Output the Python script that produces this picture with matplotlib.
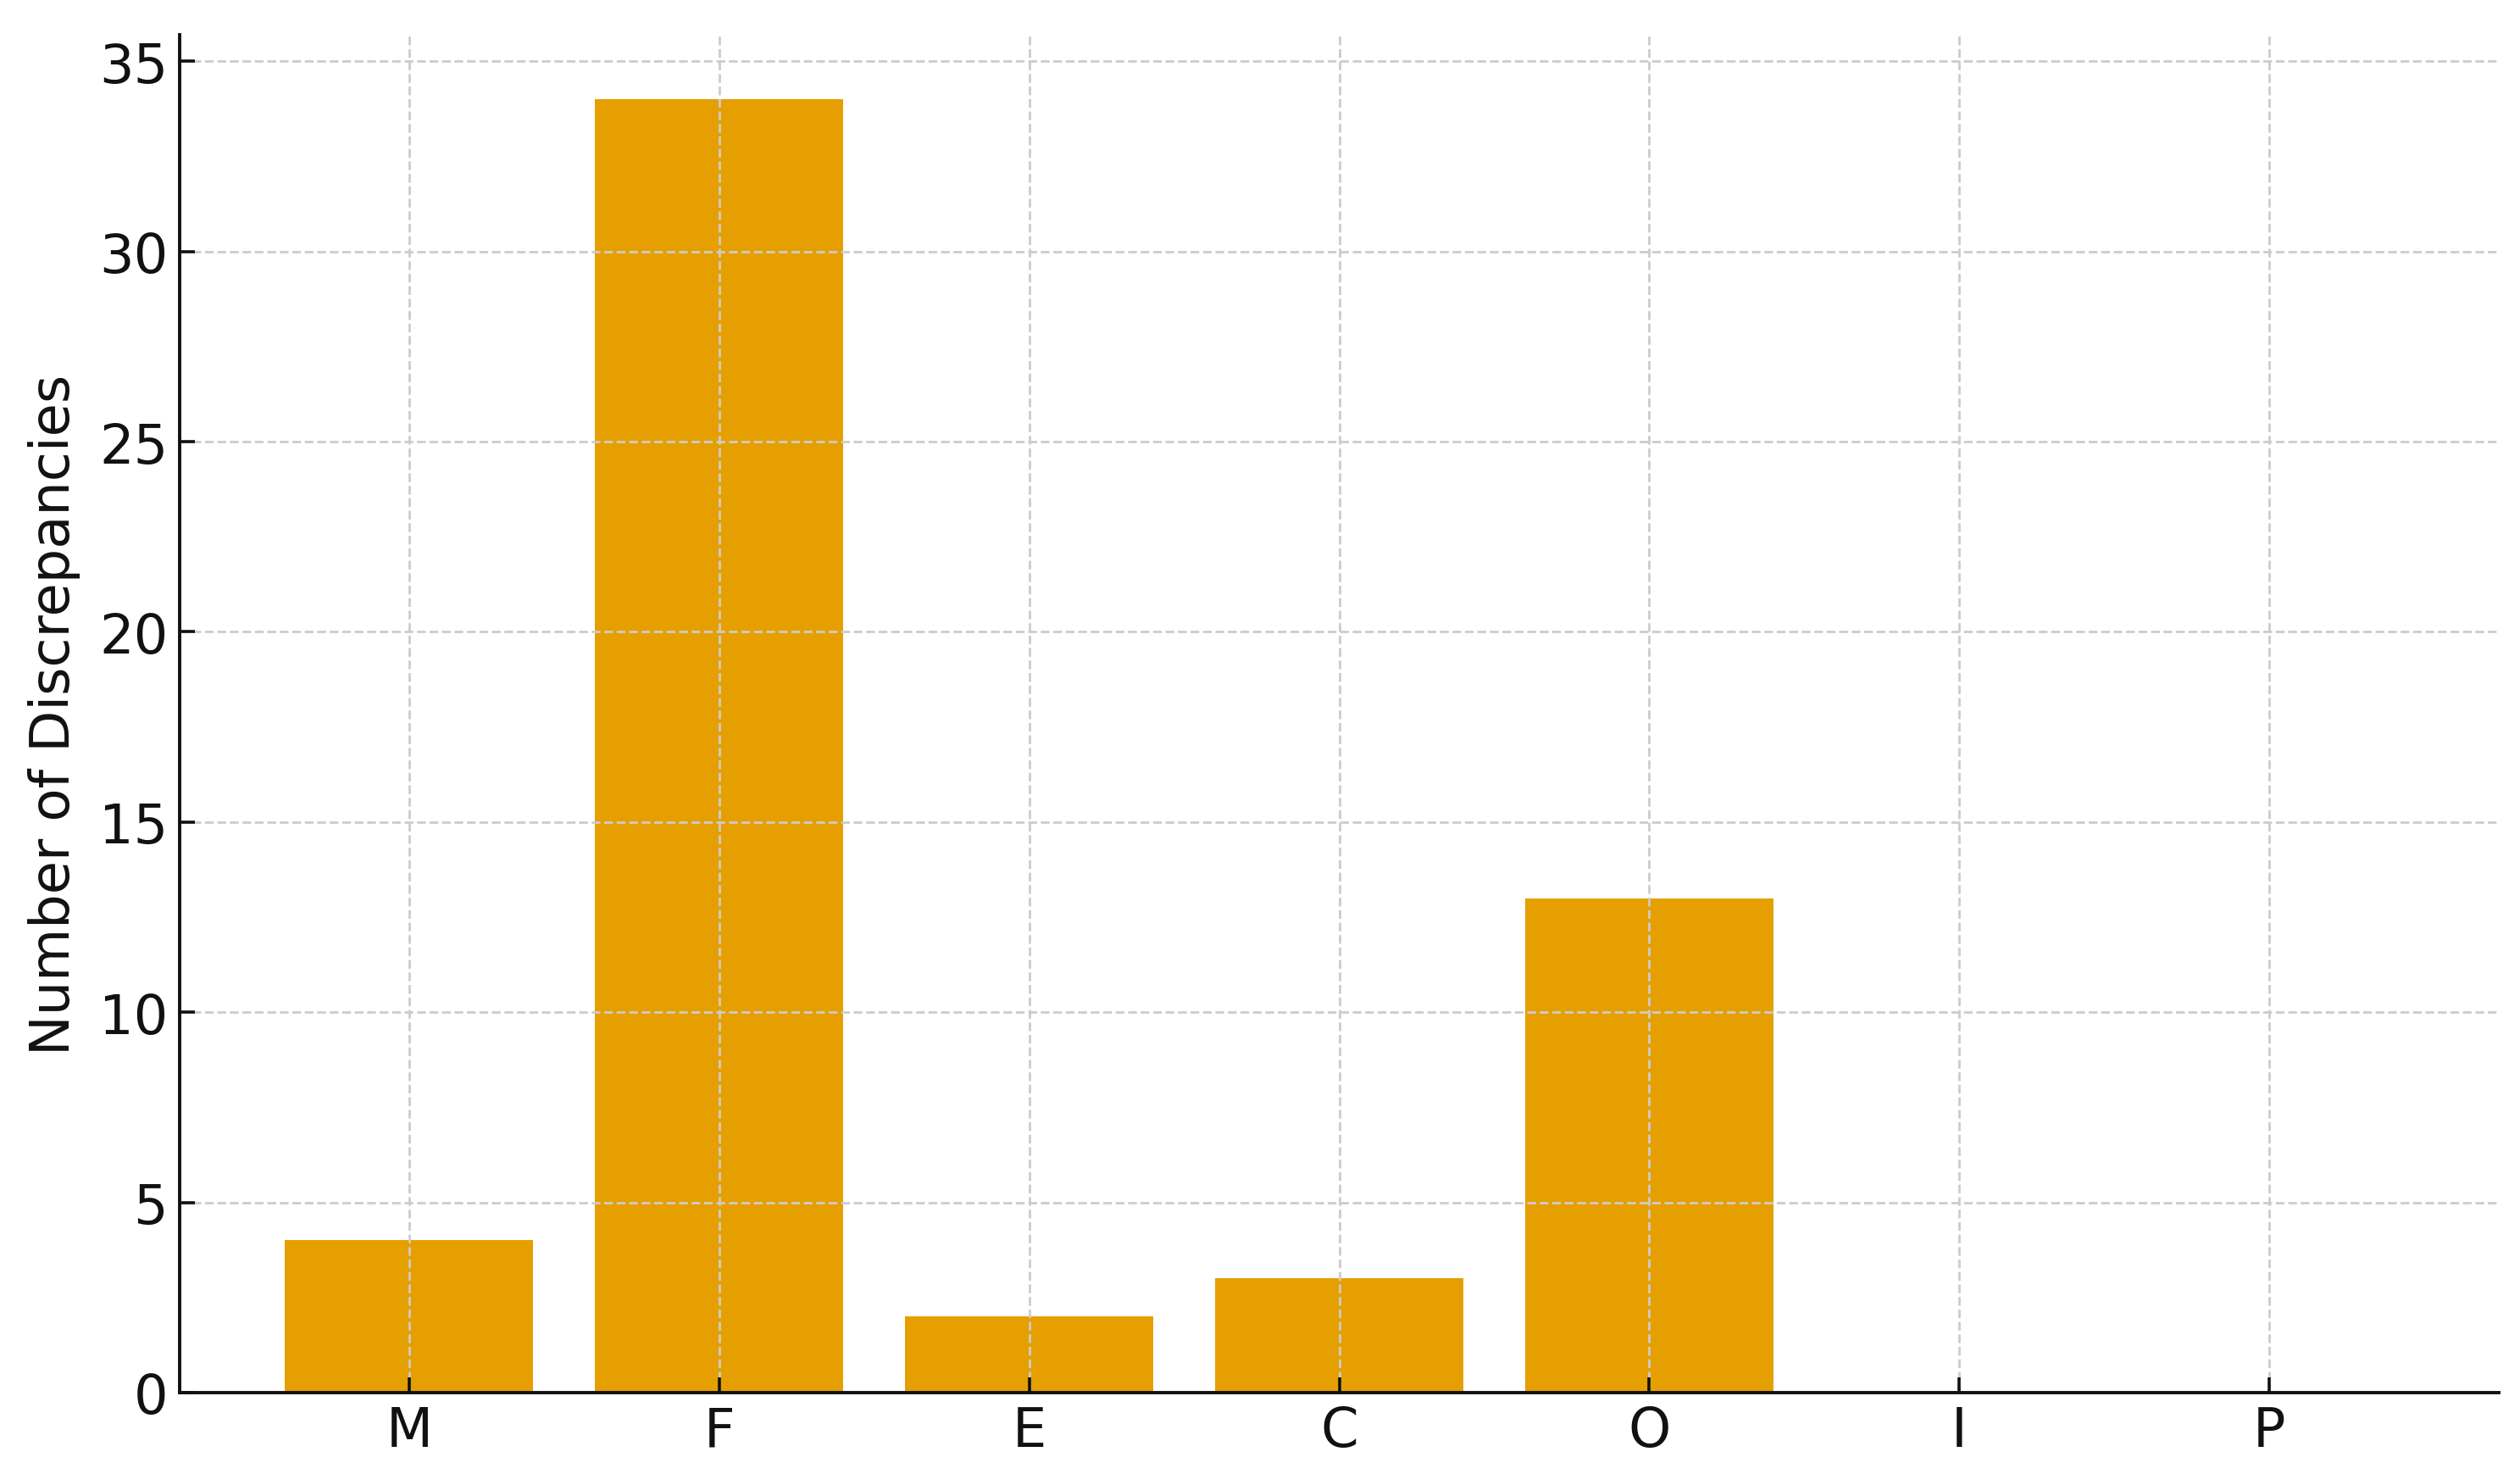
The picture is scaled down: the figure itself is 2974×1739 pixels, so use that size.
import matplotlib
matplotlib.use("Agg")
import matplotlib.pyplot as plt

categories = ["M", "F", "E", "C", "O", "I", "P"]
values = [4, 34, 2, 3, 13, 0, 0]
bar_color = "#E69F00"

fig = plt.figure(figsize=(14.87, 8.7), dpi=200)
ax = fig.add_axes([0.0713, 0.0552, 0.9203, 0.9207])

ax.bar(categories, values, width=0.8, color=bar_color)

ax.grid(True, linestyle="--", color="#cccccc", linewidth=1.0)
for s in ["top", "right"]:
    ax.spines[s].set_visible(False)
for s in ["left", "bottom"]:
    ax.spines[s].set_linewidth(1.4)
    ax.spines[s].set_color("#111111")

ax.tick_params(axis="both", direction="in", length=6.5, width=1.3,
               labelsize=23, colors="#111111", pad=5)
ax.set_ylabel("Number of Discrepancies", fontsize=23, color="#111111",
              labelpad=8)

fig.savefig("out.png", dpi=200)
